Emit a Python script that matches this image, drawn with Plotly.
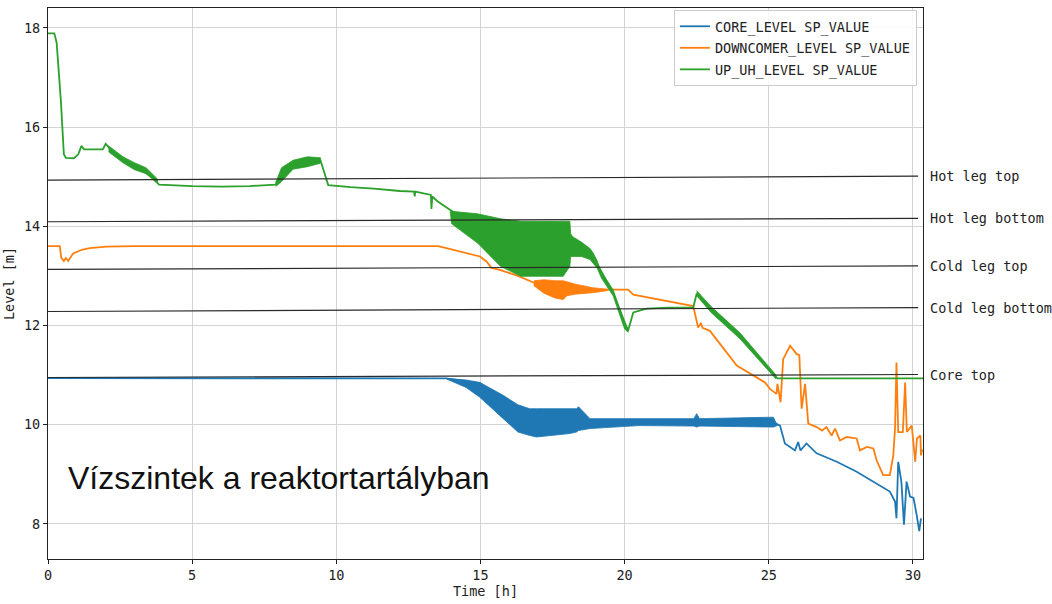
import plotly.graph_objects as go

# ---------------- data ----------------
series_names = ["CORE_LEVEL SP_VALUE", "DOWNCOMER_LEVEL SP_VALUE", "UP_UH_LEVEL SP_VALUE"]
series_colors = ["#1f77b4", "#ff7f0e", "#2ca02c"]

# CORE_LEVEL
core_t = [0, 13.82, 15.0, 15.8, 17.0, 18.2, 18.8, 20.0, 22.5, 25.16, 25.39, 25.56, 25.91, 26.02,
          26.1, 26.31, 26.66, 27.36, 28.05, 28.63, 29.2, 29.38, 29.43, 29.49, 29.6, 29.69, 29.78,
          29.9, 30.02, 30.13, 30.22, 30.28]
core_v = [10.94, 10.93, 10.83, 10.35, 10.05, 10.08, 10.02, 10.02, 10.1, 10.05, 9.98, 9.62, 9.48, 9.65,
          9.48, 9.62, 9.42, 9.25, 9.05, 8.85, 8.65, 8.45, 8.11, 9.25, 8.85, 7.98, 8.85,
          8.55, 8.52, 8.18, 7.85, 8.11]
# oscillation envelope of CORE_LEVEL
core_band_t = [13.82, 14.5, 14.98, 15.79, 16.3, 16.71, 16.95, 18.1, 18.33, 18.4, 18.8, 19.5, 20.5,
               22.4, 22.5, 22.6, 25.16, 25.3]
core_band_hi = [10.93, 10.9, 10.85, 10.59, 10.4, 10.32, 10.32, 10.32, 10.32, 10.36, 10.12, 10.12, 10.12,
                10.12, 10.22, 10.12, 10.15, 10.0]
core_band_lo = [10.92, 10.75, 10.55, 10.12, 9.85, 9.78, 9.75, 9.82, 9.85, 9.88, 9.92, 9.95, 9.98,
                9.97, 9.95, 9.97, 9.95, 9.98]

# DOWNCOMER_LEVEL
down_t = [0, 0.41, 0.46, 0.55, 0.62, 0.7, 0.87, 1.2, 1.45, 2.03, 3.0, 13.53, 13.82, 14.98, 15.21, 15.38,
          15.67, 16.3, 16.9, 17.5, 18.0, 18.9, 19.37, 20.12, 20.3, 21.46, 22.38, 22.55, 22.65, 22.7,
          22.96, 23.89, 24.46, 24.87, 25.04, 25.27, 25.3, 25.41, 25.5, 25.74, 25.97, 26.06, 26.14,
          26.26, 26.37, 26.66, 26.85, 27.0, 27.18, 27.3, 27.47, 27.7, 28.05, 28.16, 28.4, 28.63,
          28.74, 28.97, 29.2, 29.32, 29.38, 29.43, 29.49, 29.65, 29.73, 29.79, 29.96, 30.08, 30.14,
          30.26, 30.28, 30.32]
down_v = [13.6, 13.6, 13.36, 13.3, 13.36, 13.3, 13.45, 13.53, 13.56, 13.59, 13.6, 13.6, 13.56, 13.39, 13.29, 13.16,
          13.12, 13.0, 12.85, 12.7, 12.75, 12.71, 12.72, 12.72, 12.62, 12.49, 12.39, 11.96, 12.05, 11.95,
          11.89, 11.19, 10.99, 10.85, 10.72, 10.62, 10.82, 10.45, 11.32, 11.59, 11.42, 11.4, 10.32,
          10.82, 10.02, 9.95, 9.88, 9.95, 9.78, 9.92, 9.68, 9.75, 9.72, 9.48, 9.55, 9.52,
          9.28, 8.98, 8.98, 9.38, 9.92, 11.25, 9.85, 9.85, 10.85, 9.85, 9.98, 9.25, 9.72,
          9.78, 9.38, 9.5]
down_band_t = [16.85, 17.2, 17.6, 17.87, 18.0, 18.2, 18.3, 18.9, 19.4]
down_band_hi = [12.9, 12.92, 12.9, 12.9, 12.88, 12.85, 12.83, 12.76, 12.73]
down_band_lo = [12.8, 12.65, 12.55, 12.52, 12.6, 12.62, 12.63, 12.66, 12.7]

# UP_UH_LEVEL
up_t = [0, 0.22, 0.3, 0.45, 0.55, 0.62, 0.9, 1.05, 1.16, 1.25, 1.9, 2.0, 2.4, 2.8, 3.2, 3.6, 3.85, 5.0,
        6.0, 7.0, 7.9, 8.1, 8.5, 9.0, 9.45, 9.72, 10.5, 11.3, 12.2, 12.7, 12.72, 12.74, 13.28, 13.3,
        13.33, 13.52, 13.94, 15.0, 16.4, 17.9, 18.1, 18.3, 18.8, 19.03, 19.6, 20.12, 20.3, 20.76,
        21.5, 22.38, 22.5, 22.96, 24.0, 25.25, 25.3, 30.35]
up_v = [17.89, 17.89, 17.7, 16.5, 15.45, 15.38, 15.37, 15.45, 15.62, 15.55, 15.55, 15.66, 15.4, 15.25, 15.15, 15.0, 14.84, 14.81,
        14.8, 14.81, 14.84, 15.1, 15.25, 15.28, 15.33, 14.83, 14.79, 14.76, 14.71, 14.7, 14.6, 14.7, 14.63, 14.35,
        14.6, 14.5, 14.33, 13.95, 13.55, 13.55, 13.65, 13.6, 13.45, 13.26, 12.66, 11.89, 12.26, 12.34,
        12.36, 12.36, 12.64, 12.32, 11.79, 10.96, 10.93, 10.93]
up_bands = [
    ([2.1, 2.6, 3.0, 3.4, 3.8], [15.62, 15.4, 15.28, 15.18, 14.95], [15.5, 15.28, 15.14, 15.06, 14.86]),
    ([7.9, 8.1, 8.5, 9.0, 9.45], [14.88, 15.18, 15.33, 15.4, 15.38], [14.8, 14.9, 15.15, 15.2, 15.27]),
    ([13.95, 14.0, 14.9, 15.7, 16.4, 17.87, 18.1, 18.13, 18.2, 18.5, 18.8, 18.91, 19.05, 19.2],
     [14.33, 14.3, 14.25, 14.15, 14.1, 14.1, 14.1, 13.85, 13.79, 13.68, 13.55, 13.46, 13.3, 13.05],
     [14.3, 14.05, 13.66, 13.19, 12.99, 12.99, 13.19, 13.39, 13.4, 13.39, 13.33, 13.26, 13.15, 12.95]),
    ([19.2, 19.6, 20.0, 20.12], [13.07, 12.72, 12.05, 11.93], [12.95, 12.6, 11.93, 11.86]),
    ([22.5, 23.0, 24.0, 25.25], [12.7, 12.38, 11.85, 11.0], [12.6, 12.26, 11.73, 10.92]),
]

# reference levels (slightly tilted in the original)
ref_labels = ["Hot leg top", "Hot leg bottom", "Cold leg top", "Cold leg bottom", "Core top"]
ref_left = [14.93, 14.09, 13.13, 12.28, 10.95]
ref_right = [15.01, 14.16, 13.2, 12.36, 11.01]
ref_x_end = 30.18

title_text = "Vízszintek a reaktortartályban"

x_ticks = [0, 5, 10, 15, 20, 25, 30]
y_ticks = [8, 10, 12, 14, 16, 18]

# ---------------- figure ----------------
MONO = "DejaVu Sans Mono"
fig = go.Figure()


def add_band(bt, hi, lo, color, group):
    fig.add_trace(go.Scatter(
        x=list(bt) + list(bt)[::-1], y=list(hi) + list(lo)[::-1],
        mode="lines", fill="toself", fillcolor=color,
        line=dict(color=color, width=0.8), legendgroup=group,
        showlegend=False, hoverinfo="skip"))


# core
fig.add_trace(go.Scatter(x=core_t, y=core_v, mode="lines", name=series_names[0],
                         line=dict(color=series_colors[0], width=1.8), legendgroup="g0"))
add_band(core_band_t, core_band_hi, core_band_lo, series_colors[0], "g0")
# downcomer
fig.add_trace(go.Scatter(x=down_t, y=down_v, mode="lines", name=series_names[1],
                         line=dict(color=series_colors[1], width=1.8), legendgroup="g1"))
add_band(down_band_t, down_band_hi, down_band_lo, series_colors[1], "g1")
# upper plenum / upper head
fig.add_trace(go.Scatter(x=up_t, y=up_v, mode="lines", name=series_names[2],
                         line=dict(color=series_colors[2], width=1.8), legendgroup="g2"))
for bt, hi, lo in up_bands:
    add_band(bt, hi, lo, series_colors[2], "g2")

for lab, yl, yr in zip(ref_labels, ref_left, ref_right):
    fig.add_shape(type="line", xref="x", yref="y", x0=0, x1=ref_x_end, y0=yl, y1=yr,
                  line=dict(color="#2a2a2a", width=1.2), layer="above")
    fig.add_annotation(x=1.006, y=yr, xref="paper", yref="y", text=lab, showarrow=False,
                       xanchor="left", yanchor="middle",
                       font=dict(family=MONO, size=13.5, color="#222222"))

fig.add_annotation(x=0.62, y=8.92, xref="x", yref="y", text=title_text, showarrow=False,
                   xanchor="left", yanchor="middle",
                   font=dict(family="Liberation Sans, Arial", size=32, color="#111111"))

axis_common = dict(showline=True, linecolor="#222222", linewidth=1.2, mirror=True,
                   showgrid=True, gridcolor="#d3d3d3", gridwidth=1, zeroline=False,
                   ticks="outside", ticklen=4, tickcolor="#222222",
                   tickfont=dict(family=MONO, size=13.5, color="#222222"))

fig.update_layout(
    width=1052, height=604,
    margin=dict(l=48, r=129, t=7, b=43),
    plot_bgcolor="white", paper_bgcolor="white",
    xaxis=dict(range=[0, 30.35], tickvals=x_ticks, **axis_common,
               title=dict(text="Time [h]", font=dict(family=MONO, size=13.5, color="#222222"), standoff=4)),
    yaxis=dict(range=[7.29, 18.40], tickvals=y_ticks, **axis_common,
               title=dict(text="Level [m]", font=dict(family=MONO, size=13.5, color="#222222"), standoff=6)),
    legend=dict(x=0.993, y=0.9964, xanchor="right", yanchor="top",
                bgcolor="rgba(255,255,255,0.85)", bordercolor="#cccccc", borderwidth=1,
                font=dict(family=MONO, size=13.5, color="#222222"), tracegroupgap=1,
                itemwidth=30),
    showlegend=True,
)

fig.write_html("out.html", config={"displayModeBar": False},
               post_script="document.body.style.margin='0';document.body.style.padding='0';")
